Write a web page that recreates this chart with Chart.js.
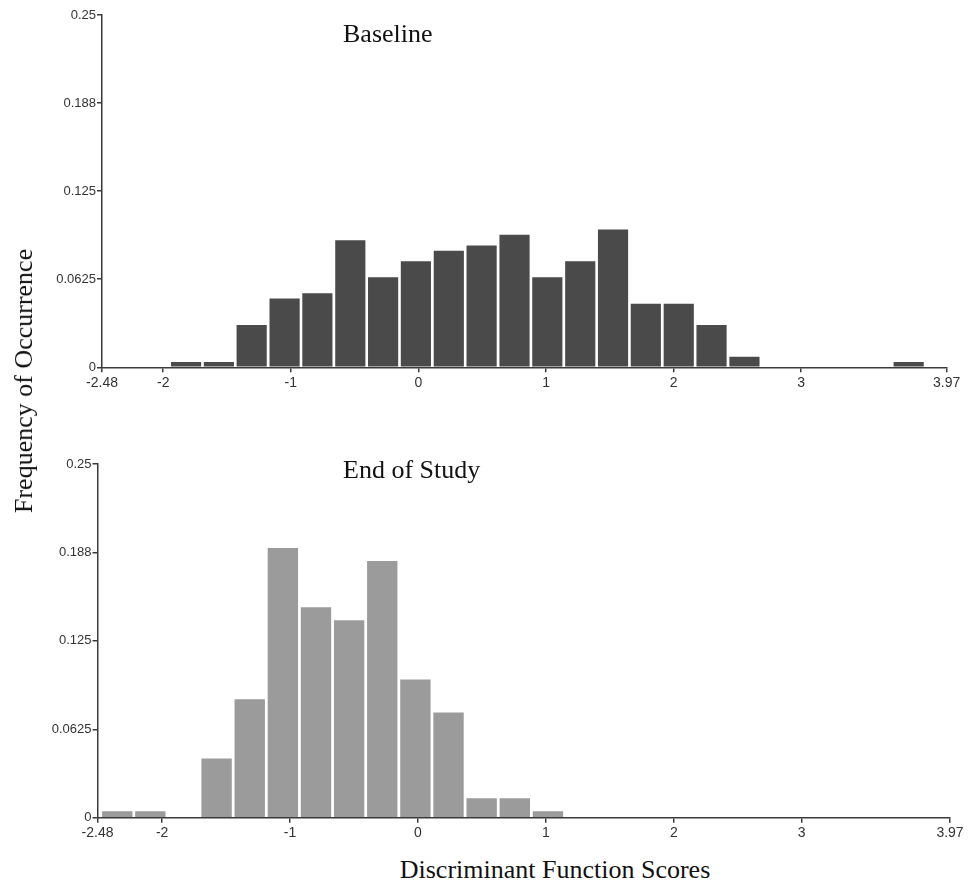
<!DOCTYPE html>
<html>
<head>
<meta charset="utf-8">
<script src="https://cdn.jsdelivr.net/npm/chart.js@4/dist/chart.umd.min.js"></script>
<style>
  html, body { margin: 0; padding: 0; background: #ffffff; }
  #wrap { position: relative; width: 971px; height: 886px; overflow: hidden; background: #ffffff; }
  canvas { position: absolute; left: 0; }
  .serif { position: absolute; font-family: "Liberation Serif", "Times New Roman", serif; font-size: 26px; line-height: 26px; color: #111; white-space: nowrap; }
</style>
</head>
<body>
<div id="wrap">
  <canvas id="baseline" width="971" height="400" style="top:0px"></canvas>
  <canvas id="endStudy" width="971" height="410" style="top:440px"></canvas>
  <div class="serif" style="left:343px; top:21px;">Baseline</div>
  <div class="serif" style="left:343px; top:457px;">End of Study</div>
  <div class="serif" style="left:555px; top:857px; transform:translateX(-50%);">Discriminant Function Scores</div>
  <div class="serif" style="left:24px; top:381px; transform:translate(-50%,-50%) rotate(-90deg);">Frequency of Occurrence</div>
</div>
<script>
// Histogram bin centres (discriminant function score) and relative frequencies
const baselineBins = [-1.821, -1.564, -1.307, -1.049, -0.792, -0.534, -0.277, -0.020, 0.238, 0.495, 0.753, 1.010,
                      1.268, 1.525, 1.782, 2.040, 2.297, 2.555, 2.812, 3.070, 3.327, 3.584, 3.842];
const baselineFreq = [0.0038, 0.0038, 0.0301, 0.0489, 0.0526, 0.0902, 0.0639, 0.0752, 0.0827, 0.0865, 0.0940, 0.0639,
                      0.0752, 0.0977, 0.0451, 0.0451, 0.0301, 0.0075, 0, 0, 0, 0, 0.0038];

const endBins = [-2.350, -2.092, -1.833, -1.574, -1.315, -1.056, -0.797, -0.538, -0.279, -0.020, 0.239, 0.498, 0.757, 1.016];
const endFreq = [0.0045, 0.0045, 0, 0.0419, 0.0837, 0.1907, 0.1488, 0.1395, 0.1814, 0.0977, 0.0744, 0.0137, 0.0137, 0.0045];

// Axis ticks: positions and the labels printed at them
const xTickValuesTop = [-2.48, -2, -1, 0, 1, 2, 3, 4.14];
const xTickValuesBottom = [-2.505, -2, -1, 0, 1, 2, 3, 4.159];
const xTickLabels = ['-2.48', '-2', '-1', '0', '1', '2', '3', '3.97'];
const yTickValues = [0, 0.0625, 0.125, 0.1875, 0.25];
const yTickLabels = ['0', '0.0625', '0.125', '0.188', '0.25'];

const axisColor = '#3a3a3a';
const xTickFont = { family: "'Liberation Sans', Arial, sans-serif", size: 14 };
const yTickFont = { family: "'Liberation Sans', Arial, sans-serif", size: 13 };

function histogram(canvasId, bins, freq, fill, opts) {
  const points = bins.map((b, i) => ({ x: b, y: freq[i] }));
  return new Chart(document.getElementById(canvasId), {
    type: 'bar',
    data: {
      datasets: [{
        data: points,
        backgroundColor: fill,
        borderWidth: 0,
        categoryPercentage: 1.0,
        barPercentage: 0.92
      }]
    },
    options: {
      responsive: false,
      animation: false,
      events: [],
      layout: { padding: { left: 0, top: opts.padTop, right: opts.padRight, bottom: 0 } },
      plugins: { legend: { display: false }, tooltip: { enabled: false }, title: { display: false } },
      scales: {
        x: {
          type: 'linear',
          min: opts.xMin,
          max: opts.xMax,
          offset: false,
          grid: { display: true, offset: false, drawOnChartArea: false, drawTicks: true, tickLength: 5, color: axisColor, lineWidth: 1.5 },
          border: { display: true, color: axisColor, width: 1.5 },
          afterBuildTicks: (scale) => { scale.ticks = opts.xTicks.map(v => ({ value: v })); },
          afterFit: (scale) => { scale.height = opts.xHeight; },
          ticks: {
            autoSkip: false, maxRotation: 0, minRotation: 0, padding: 2,
            color: '#333', font: xTickFont,
            callback: (v, i) => xTickLabels[i]
          }
        },
        y: {
          min: 0,
          max: 0.25,
          grid: { display: true, drawOnChartArea: false, drawTicks: true, tickLength: 5, color: axisColor, lineWidth: 1.5 },
          border: { display: true, color: axisColor, width: 1.5 },
          afterBuildTicks: (scale) => { scale.ticks = yTickValues.map(v => ({ value: v })); },
          afterFit: (scale) => { scale.width = opts.yWidth; },
          ticks: {
            autoSkip: false, padding: 1,
            color: '#333', font: yTickFont,
            callback: (v, i) => yTickLabels[i]
          }
        }
      }
    }
  });
}

histogram('baseline', baselineBins, baselineFreq, '#4a4a4a', {
  xMin: -2.48, xMax: 4.14, xTicks: xTickValuesTop,
  padTop: 15, padRight: 24.3, yWidth: 102, xHeight: 32.7
});

histogram('endStudy', endBins, endFreq, '#9b9b9b', {
  xMin: -2.505, xMax: 4.159, xTicks: xTickValuesBottom,
  padTop: 24, padRight: 21, yWidth: 97.5, xHeight: 32.3
});
</script>
</body>
</html>
